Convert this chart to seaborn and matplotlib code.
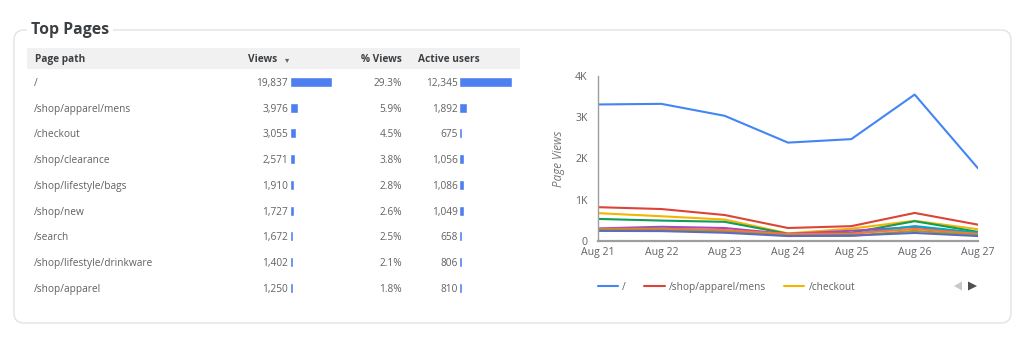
import numpy as np
import pandas as pd
import matplotlib
matplotlib.use("Agg")
import matplotlib.pyplot as plt
from matplotlib.patches import FancyBboxPatch, Rectangle, Polygon
from matplotlib.lines import Line2D
import seaborn as sns

# ---------------- data ----------------
pages = ["/", "/shop/apparel/mens", "/checkout", "/shop/clearance",
         "/shop/lifestyle/bags", "/shop/new", "/search",
         "/shop/lifestyle/drinkware", "/shop/apparel"]
views = [19837, 3976, 3055, 2571, 1910, 1727, 1672, 1402, 1250]
pct_views = ["29.3%", "5.9%", "4.5%", "3.8%", "2.8%", "2.6%", "2.5%", "2.1%", "1.8%"]
active_users = [12345, 1892, 675, 1056, 1086, 1049, 658, 806, 810]

dates = ["Aug 21", "Aug 22", "Aug 23", "Aug 24", "Aug 25", "Aug 26", "Aug 27"]
daily_root = [3310, 3325, 3035, 2385, 2470, 3550, 1762]
daily_mens = [820, 775, 630, 315, 360, 680, 396]
daily_checkout = [675, 600, 520, 185, 300, 490, 285]
daily_clearance = [535, 495, 465, 175, 200, 480, 221]
daily_bags = [305, 345, 315, 170, 250, 340, 185]
daily_new = [280, 300, 255, 160, 170, 362, 200]
daily_search = [295, 295, 265, 170, 180, 295, 172]
daily_drinkware = [275, 262, 225, 130, 125, 245, 140]
daily_apparel = [245, 240, 200, 120, 130, 195, 120]

series = [daily_root, daily_mens, daily_checkout, daily_clearance, daily_bags,
          daily_new, daily_search, daily_drinkware, daily_apparel]
palette = ["#4285F4", "#DB4437", "#F4B400", "#0F9D58", "#AB47BC",
           "#00ACC1", "#FF7043", "#9E9D24", "#5C6BC0"]

# ---------------- style ----------------
sns.set_theme(style="white")
plt.rcParams["font.family"] = ["Open Sans", "DejaVu Sans"]

W, H = 1024, 338
fig = plt.figure(figsize=(W / 100, H / 100), dpi=100)
fig.patch.set_facecolor("white")

def fx(px):
    return px / W

def fy(py):
    return 1 - py / H

# overlay axes in pixel coordinates
ov = fig.add_axes([0, 0, 1, 1], zorder=0)
ov.set_xlim(0, W)
ov.set_ylim(H, 0)
ov.axis("off")

# card
card = FancyBboxPatch((14, 30), 997, 293, boxstyle="round,pad=0,rounding_size=10",
                      facecolor="white", edgecolor="#e3e3e3", linewidth=1.0)
ov.add_patch(card)
ov.text(31, 30, "Top Pages", fontsize=11.4, fontweight="bold", color="#3c4043",
        ha="left", va="center",
        bbox=dict(facecolor="white", edgecolor="none", pad=3))

# table header
ov.add_patch(Rectangle((27, 48), 493, 21, facecolor="#f1f1f1", edgecolor="none"))
hdr_kw = dict(fontsize=7.3, fontweight="bold", color="#3c4043", va="center")
ov.text(35, 59.5, "Page path", ha="left", **hdr_kw)
ov.text(248, 59.5, "Views", ha="left", **hdr_kw)
ov.text(287, 59.5, "▾", ha="center", fontsize=6, color="#5f6368", va="center",
        family="DejaVu Sans")
ov.text(402, 59.5, "% Views", ha="right", **hdr_kw)
ov.text(418, 59.5, "Active users", ha="left", **hdr_kw)

row0, rstep = 82.0, 25.72
cell_kw = dict(fontsize=7.3, color="#616161", va="center")
for i, p in enumerate(pages):
    y = row0 + i * rstep + 1.5
    ov.text(34, y, p, ha="left", **cell_kw)
    ov.text(288, y, f"{views[i]:,}", ha="right", **cell_kw)
    ov.text(402, y, pct_views[i], ha="right", **cell_kw)
    ov.text(458, y, f"{active_users[i]:,}", ha="right", **cell_kw)

df_tab = pd.DataFrame({"page": pages, "views": views, "users": active_users})

def bar_axes(x0, x1, col, vmax):
    top = row0 - rstep / 2
    bot = row0 + (len(pages) - 0.5) * rstep
    a = fig.add_axes([fx(x0), fy(bot), fx(x1) - fx(x0), fy(top) - fy(bot)], zorder=2)
    sns.barplot(data=df_tab, x=col, y="page", orient="h", color="#4d7ff0",
                width=0.39, ax=a, saturation=1)
    a.set_xlim(0, vmax)
    a.set_ylim(len(pages) - 0.5, -0.5)
    a.axis("off")
    return a

bar_axes(290, 331.5, "views", max(views))
bar_axes(459, 512, "users", max(active_users))

# ---------------- line chart ----------------
long = pd.DataFrame({
    "date": np.tile(np.arange(len(dates)), len(pages)),
    "page": np.repeat(pages, len(dates)),
    "value": np.concatenate([np.array(s) for s in series]),
})
lx0, lx1, ly0, ly1 = 598, 978, 241, 76
lax = fig.add_axes([fx(lx0), fy(ly0), fx(lx1) - fx(lx0), fy(ly1) - fy(ly0)], zorder=3)
lax.patch.set_alpha(0)
sns.lineplot(data=long.iloc[::-1], x="date", y="value", hue="page",
             hue_order=pages, palette=palette, linewidth=1.5, ax=lax,
             legend=False, sort=True)
lax.set_xlim(0, len(dates) - 1)
lax.set_ylim(0, 4000)
lax.set_xticks(range(len(dates)))
lax.set_xticklabels(dates)
lax.set_yticks([0, 1000, 2000, 3000, 4000])
lax.set_yticklabels(["0", "1K", "2K", "3K", "4K"])
lax.tick_params(axis="both", length=0, labelsize=7.6, labelcolor="#5f6368")
lax.tick_params(axis="x", pad=4)
lax.tick_params(axis="y", pad=7.5)
lax.set_xlabel("")
lax.set_ylabel("Page Views", fontsize=8.4, fontstyle="italic", color="#757575", labelpad=7)
for s in ["top", "right"]:
    lax.spines[s].set_visible(False)
lax.spines["left"].set_color("#9e9e9e")
lax.spines["left"].set_linewidth(1.0)
lax.spines["bottom"].set_color("#9e9e9e")
lax.spines["bottom"].set_linewidth(1.6)
lax.grid(False)

# legend (first three series)
handles = [Line2D([0], [0], color=palette[i], lw=1.5) for i in range(3)]
leg = fig.legend(handles, pages[:3], loc="center left",
                 bbox_to_anchor=(fx(598), fy(287.5)), ncol=3, frameon=False,
                 fontsize=7.3, handlelength=2.0, handletextpad=0.4,
                 columnspacing=1.8, borderpad=0, borderaxespad=0,
                 labelcolor="#5f6368")

# pager arrows
ov.add_patch(Polygon([[962, 281.5], [962, 290.5], [954, 286]], closed=True,
                     facecolor="#c8c8c8", edgecolor="none"))
ov.add_patch(Polygon([[968, 281.5], [968, 290.5], [977, 286]], closed=True,
                     facecolor="#505050", edgecolor="none"))

fig.savefig("out.png", dpi=100, facecolor="white")
